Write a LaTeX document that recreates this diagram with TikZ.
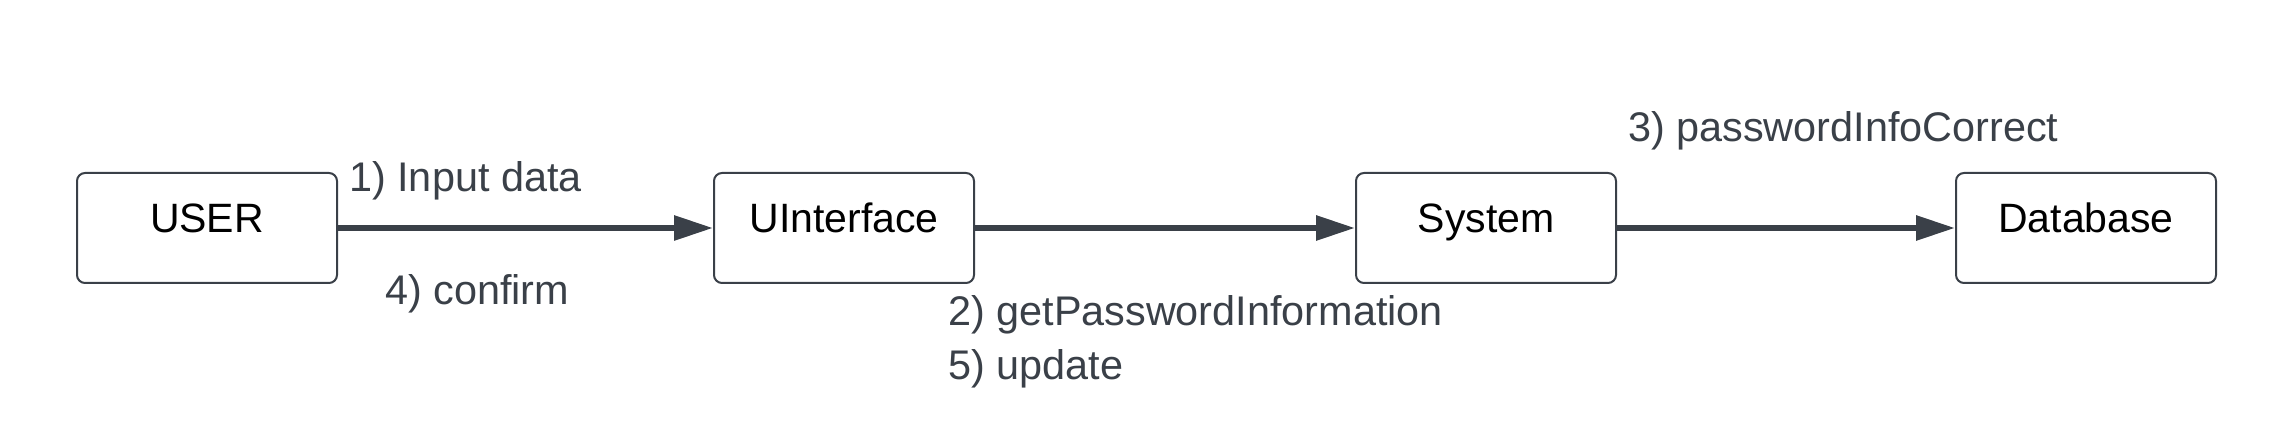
\documentclass[tikz,border=0pt]{standalone}
\usepackage{fontspec}
\setmainfont{Liberation Sans}
\usepackage{tikz}
\usetikzlibrary{arrows.meta}

\definecolor{lineGray}{HTML}{3A4048}

\begin{document}
\begin{tikzpicture}[x=1pt,y=-1pt,
	blockbox/.style={draw=lineGray,line width=2pt,rounded corners=8pt,
		minimum width=260pt,minimum height=110pt,inner sep=0pt,
		text height=28pt,text depth=18pt,
		font=\fontsize{41}{49}\selectfont,text=black},
	msglabel/.style={anchor=base west,inner sep=0pt,text=lineGray,
		font=\fontsize{41.4}{49}\selectfont},
	flow/.style={draw=lineGray,line width=6pt,
		-{Triangle[length=39pt,width=24pt]}}]
	
	\useasboundingbox (0,0) rectangle (2291,435);
	
	% Define the blocks
	\node[blockbox] (user) at (207,228) {USER};
	\node[blockbox] (uif) at (844,228) {UInterface};
	\node[blockbox] (sys) at (1486,228) {System};
	\node[blockbox] (db) at (2086,228) {Database};
	
	% Draw the flows
	\draw[flow] (user.east)--(uif.west);
	\draw[flow] (uif.east)--(sys.west);
	\draw[flow] (sys.east)--(db.west);
	
	% Label the messages
	\node[msglabel] (msgInput) at (349,192) {1) Input data};
	\node[msglabel] (msgConfirm) at (385,305) {4) confirm};
	\node[msglabel] (msgGetPwd) at (948,326) {2) getPasswordInformation};
	\node[msglabel] (msgUpdate) at (948,380) {5) update};
	\node[msglabel] (msgCorrect) at (1628,142) {3) passwordInfoCorrect};
	
\end{tikzpicture}
\end{document}
